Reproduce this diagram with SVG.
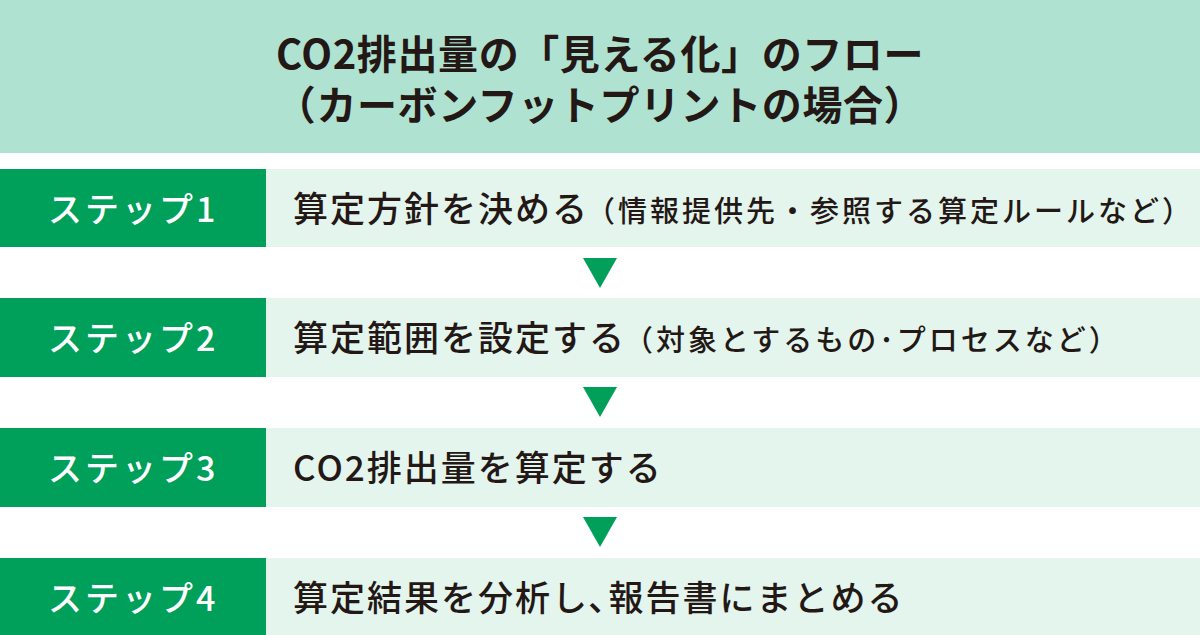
<svg xmlns="http://www.w3.org/2000/svg" width="1200" height="635" viewBox="0 0 1200 635">
<style>
.hdr{fill:#b0e2d1}
.tag{fill:#00a05a}
.row{fill:#e3f5ed}
.arrow{fill:#00a05a}
text{font-family:"Noto Sans CJK JP","Noto Sans CJK SC",sans-serif;fill:#231815}
.title{font-size:40px;font-weight:700;text-anchor:middle;letter-spacing:0.6px}
.lbl{font-size:34px;font-weight:500;fill:#ffffff;letter-spacing:3px}
.main{font-size:35px;font-weight:500;letter-spacing:2px}
.sub{font-size:29px;font-weight:500;letter-spacing:3px}
</style>
<rect width="1200" height="635" fill="#ffffff"/>
<g id="header">
<rect class="hdr" x="0" y="0" width="1200" height="153"/>
<text class="title" x="600" y="69">CO2排出量の「見える化」のフロー<tspan x="600" dy="51">（カーボンフットプリントの場合）</tspan></text>
</g>
<g id="step1">
<rect class="row" x="266" y="169" width="934" height="78"/>
<rect class="tag" x="0" y="169" width="266" height="78"/>
<text class="lbl" x="48" y="222">ステップ1</text>
<text class="main" x="293" y="222">算定方針を決める</text>
<text class="sub" x="586" y="222">（情報提供先・参照する算定ルールなど）</text>
</g>
<g id="step2">
<rect class="row" x="266" y="298" width="934" height="79"/>
<rect class="tag" x="0" y="298" width="266" height="79"/>
<text class="lbl" x="48" y="351">ステップ2</text>
<text class="main" x="293" y="351">算定範囲を設定する</text>
<text class="sub" x="624" y="351">（対象とするもの･プロセスなど）</text>
</g>
<g id="step3">
<rect class="row" x="266" y="428" width="934" height="79"/>
<rect class="tag" x="0" y="428" width="266" height="79"/>
<text class="lbl" x="48" y="481">ステップ3</text>
<text class="main" x="293" y="481">CO2排出量を算定する</text>
</g>
<g id="step4">
<rect class="row" x="266" y="558" width="934" height="77"/>
<rect class="tag" x="0" y="558" width="266" height="77"/>
<text class="lbl" x="48" y="611">ステップ4</text>
<text class="main" x="293" y="611">算定結果を分析し､報告書にまとめる</text>
</g>
<g id="connectors">
<polygon class="arrow" points="583,258 617,258 600,288"/>
<polygon class="arrow" points="583,387 617,387 600,417"/>
<polygon class="arrow" points="583,517 617,517 600,547"/>
</g>
</svg>
